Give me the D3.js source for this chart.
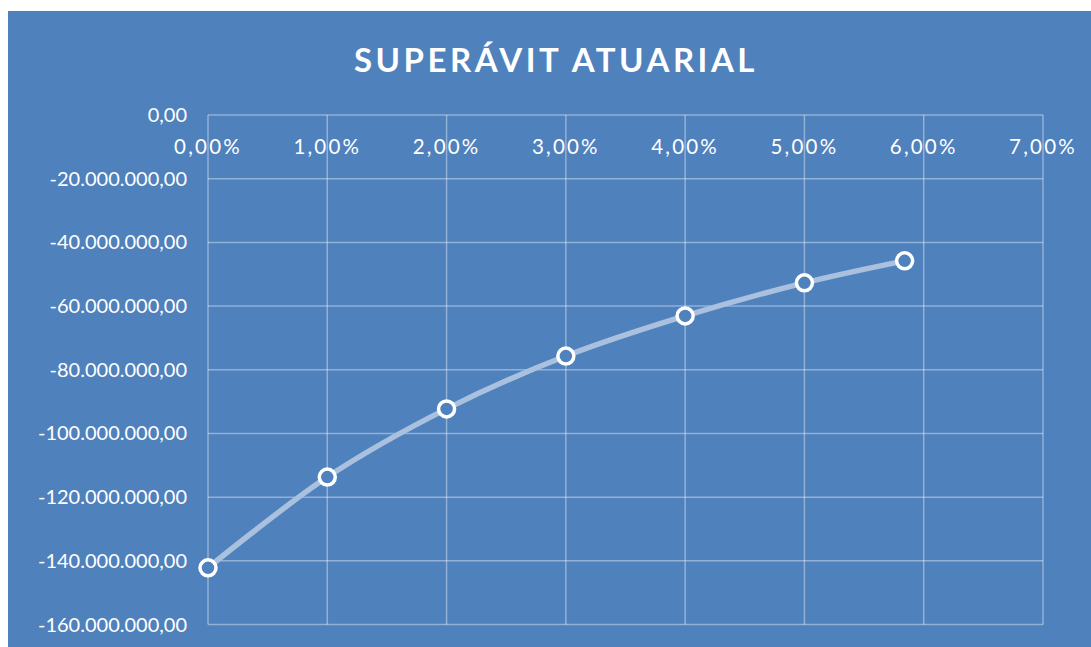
<!DOCTYPE html>
<html>
<head>
<meta charset="utf-8">
<script src="https://cdn.jsdelivr.net/npm/d3@7"></script>
<style>
  body { margin: 0; background: #fff; }
  text { font-family: Lato, "Open Sans", sans-serif; fill: #fff; }
</style>
</head>
<body>
<svg width="1091" height="647"></svg>
<script>
// taxa de juros (%) x superavit atuarial
const taxas = [0, 1, 2, 3, 4, 5, 5.84];
const superavit = [-142200000, -113700000, -92300000, -75700000, -63100000, -52700000, -45800000];
const xTicks = [0, 1, 2, 3, 4, 5, 6, 7];
const yTicks = [0, -20e6, -40e6, -60e6, -80e6, -100e6, -120e6, -140e6, -160e6];

const data = taxas.map((t, i) => ({t, v: superavit[i]}));

const svg = d3.select("svg");
const bg = "#4f81bd";

svg.append("rect")
  .attr("x", 8).attr("y", 11)
  .attr("width", 1083).attr("height", 636)
  .attr("fill", bg);

const x = d3.scaleLinear().domain([0, 7]).range([208, 1043]);
const y = d3.scaleLinear().domain([-160e6, 0]).range([624.5, 115]);

const fmtNum = d3.formatLocale({decimal: ",", thousands: ".", grouping: [3], currency: ["", ""], minus: "-"}).format(",.2f");

// grade
svg.append("g")
  .selectAll("line")
  .data(yTicks)
  .join("line")
    .attr("x1", x(0)).attr("x2", x(7))
    .attr("y1", d => y(d)).attr("y2", d => y(d))
    .attr("stroke", "rgba(255,255,255,0.38)")
    .attr("stroke-width", 1.5);

svg.append("g")
  .selectAll("line")
  .data(xTicks)
  .join("line")
    .attr("x1", d => x(d)).attr("x2", d => x(d))
    .attr("y1", y(0)).attr("y2", y(-160e6))
    .attr("stroke", "rgba(255,255,255,0.38)")
    .attr("stroke-width", 1.5);

// rotulos
svg.append("g")
  .selectAll("text")
  .data(yTicks)
  .join("text")
    .attr("x", 187)
    .attr("y", d => y(d) + 7)
    .attr("text-anchor", "end")
    .attr("font-size", 20)
    .text(d => fmtNum(d));

svg.append("g")
  .selectAll("text")
  .data(xTicks)
  .join("text")
    .attr("x", d => x(d))
    .attr("y", 154)
    .attr("text-anchor", "middle")
    .attr("font-size", 20.5)
    .attr("letter-spacing", 2.2)
    .text(d => d.toFixed(2).replace(".", ",") + "%");

svg.append("text")
  .attr("x", 556)
  .attr("y", 72)
  .attr("text-anchor", "middle")
  .attr("font-size", 33)
  .attr("font-weight", "bold")
  .attr("letter-spacing", 3.5)
  .text("SUPERÁVIT ATUARIAL");

// serie
const line = d3.line()
  .x(d => x(d.t))
  .y(d => y(d.v))
  .curve(d3.curveCatmullRom.alpha(0.5));

svg.append("path")
  .datum(data)
  .attr("d", line)
  .attr("fill", "none")
  .attr("stroke", "#a9c0de")
  .attr("stroke-width", 5.5)
  .attr("stroke-linecap", "round");

svg.append("g")
  .selectAll("circle")
  .data(data)
  .join("circle")
    .attr("cx", d => x(d.t))
    .attr("cy", d => y(d.v))
    .attr("r", 8)
    .attr("fill", bg)
    .attr("stroke", "#fff")
    .attr("stroke-width", 3.5);
</script>
</body>
</html>
